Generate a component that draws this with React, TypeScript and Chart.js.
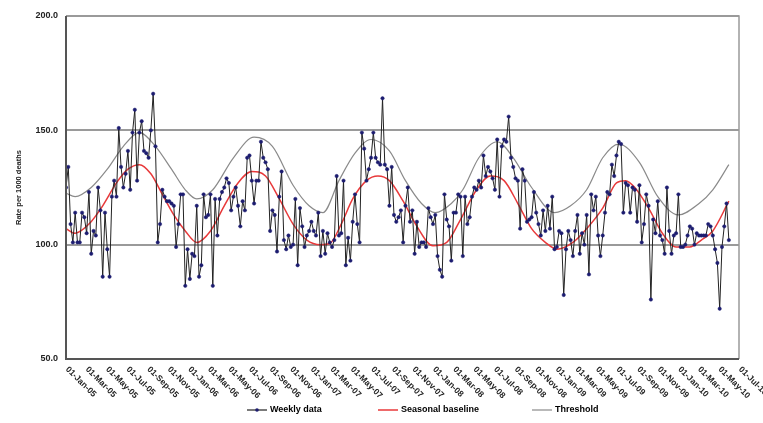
import { useEffect, useRef } from "react";
import { Chart, registerables } from "chart.js";

Chart.register(...registerables);

const TICK_LABELS = [
  "01-Jan-05", "01-Mar-05", "01-May-05", "01-Jul-05", "01-Sep-05", "01-Nov-05",
  "01-Jan-06", "01-Mar-06", "01-May-06", "01-Jul-06", "01-Sep-06", "01-Nov-06",
  "01-Jan-07", "01-Mar-07", "01-May-07", "01-Jul-07", "01-Sep-07", "01-Nov-07",
  "01-Jan-08", "01-Mar-08", "01-May-08", "01-Jul-08", "01-Sep-08", "01-Nov-08",
  "01-Jan-09", "01-Mar-09", "01-May-09", "01-Jul-09", "01-Sep-09", "01-Nov-09",
  "01-Jan-10", "01-Mar-10", "01-May-10", "01-Jul-10",
];

const Y_TICKS = [50, 100, 150, 200];

const WEEKLY_DATA = [
  125, 134, 109, 101, 114, 101, 101, 114, 112, 105, 123, 96, 106, 104, 125, 115, 86, 114, 98, 86,
  121, 128, 121, 151, 134, 125, 131, 141, 124, 149, 159, 128, 149, 154, 141, 140, 138, 150, 166, 143,
  101, 109, 124, 121, 119, 119, 118, 117, 99, 109, 122, 122,
  82, 98, 85, 96, 95, 117, 86, 91, 122, 112, 113, 122, 82, 120, 104, 120, 123, 125, 129, 127,
  115, 121, 125, 117, 108, 119, 115, 138, 139, 128, 118, 128, 128, 145, 138, 136, 133, 106, 115, 113,
  97, 121, 132, 102, 98, 104, 99, 100, 120, 91, 116, 108, 99, 104, 106, 110, 106, 104, 114,
  95, 106, 96, 105, 101, 99, 102, 130, 104, 105, 128, 91, 103, 93, 110, 122, 109, 101, 149, 142,
  128, 133, 138, 149, 138, 136, 135, 164, 135, 133, 117, 134, 113, 110, 112, 115, 101, 117, 125, 110,
  115, 96, 110, 99, 101, 101, 99, 116, 112, 109, 113, 95, 89, 86, 122, 111, 108, 93, 114,
  114, 122, 121, 95, 121, 109, 112, 121, 125, 124, 128, 125, 139, 130, 134, 132, 129, 124, 146, 121,
  143, 146, 145, 156, 138, 134, 129, 128, 107, 133, 128, 110, 111, 112, 123, 114, 109, 104, 115, 106,
  117, 107, 121, 98, 99, 106, 105, 78, 98, 106, 102, 95, 106, 113, 96, 105, 100, 113,
  87, 122, 115, 121, 104, 95, 104, 114, 123, 122, 135, 130, 139, 145, 144, 114, 127, 126, 114, 125,
  124, 110, 126, 101, 109, 122, 117, 76, 111, 105, 119, 104, 102, 96, 125, 106, 96, 104, 105, 122,
  99, 99, 100, 104, 108, 107, 100, 105, 104, 104, 104, 104, 109, 108, 104, 98, 92, 72, 99, 108,
  118, 102,
];

const BASELINE_WEEKS = [
  0, 4, 10, 16, 22, 27, 32, 37, 42, 47, 52, 57, 63, 69, 75, 81, 87, 93, 99, 105, 111, 115, 120, 125,
  131, 136, 141, 147, 153, 160, 166, 172, 179, 185, 191, 197, 203, 209, 214, 221, 227, 234, 240, 244,
  248, 254, 260, 266, 272, 277, 282, 289,
];
const BASELINE_VALUES = [
  107, 105, 109, 117, 127, 133, 135, 131, 122, 113, 106, 101, 106, 117, 127, 132, 130, 120, 109, 102,
  100, 100.5, 109, 120, 128, 130, 128, 119, 108, 99.5, 101, 111, 124, 130, 128, 118, 107, 101, 98, 101,
  107, 116, 127, 128, 125, 116, 105, 99, 99, 102, 106, 119,
];

const THRESHOLD_WEEKS = [
  0, 4, 11, 18, 25, 32, 39, 46, 52, 57, 64, 73, 82, 90, 99, 106, 112, 119, 126, 133, 141, 148, 155,
  161, 168, 173, 180, 188, 195, 203, 213, 220, 227, 234, 241, 250, 258, 267, 276, 282, 289,
];
const THRESHOLD_VALUES = [
  122.5, 121, 125, 133, 143, 149, 143, 133, 124, 120, 124, 138, 147, 143, 126, 117, 114, 128, 140, 146,
  141, 128, 118, 114, 118, 124, 138, 145, 138, 125, 114, 117, 124, 138, 144, 136, 121, 113, 118, 124,
  135,
];

const SERIES_NAMES = ["Weekly data", "Seasonal baseline", "Threshold"];
const SERIES_COLORS = ["#222222", "#e8393a", "#8a8a8a"];

const MONTHS: Record<string, number> = {
  Jan: 0, Feb: 1, Mar: 2, Apr: 3, May: 4, Jun: 5, Jul: 6, Aug: 7, Sep: 8, Oct: 9, Nov: 10, Dec: 11,
};
const ORIGIN = Date.UTC(2005, 0, 1);
function dayOffset(label: string): number {
  const [d, m, y] = label.split("-");
  return (Date.UTC(2000 + Number(y), MONTHS[m], Number(d)) - ORIGIN) / 86400000;
}
const TICK_DAYS = TICK_LABELS.map(dayOffset);
const X_MAX = TICK_DAYS[TICK_DAYS.length - 1];
// days between consecutive samples
const DAYS_PER_SAMPLE = 6.84;

const FONT = "'Liberation Sans', Arial, sans-serif";

const framePlugin = {
  id: "frame",
  afterDatasetsDraw(chart: any) {
    const { ctx, chartArea: a } = chart;
    ctx.save();
    ctx.lineWidth = 1.5;
    ctx.strokeStyle = "#9a9a9a";
    ctx.beginPath();
    ctx.moveTo(a.left, a.top);
    ctx.lineTo(a.right, a.top);
    ctx.lineTo(a.right, a.bottom);
    ctx.stroke();
    ctx.strokeStyle = "#555";
    ctx.lineWidth = 2;
    ctx.beginPath();
    ctx.moveTo(a.left, a.top);
    ctx.lineTo(a.left, a.bottom);
    ctx.lineTo(a.right, a.bottom);
    ctx.stroke();
    ctx.restore();
  },
};

// x tick labels: rotated clockwise, text starting at the tick position (as in the original)
const xLabelPlugin = {
  id: "xLabels",
  afterDraw(chart: any) {
    const { ctx, chartArea: a } = chart;
    const xs = chart.scales.x;
    ctx.save();
    ctx.font = `bold 8.5px ${FONT}`;
    ctx.fillStyle = "#222";
    ctx.textAlign = "left";
    ctx.textBaseline = "middle";
    TICK_DAYS.forEach((d, i) => {
      const px = xs.getPixelForValue(d);
      ctx.save();
      ctx.translate(px + 1, a.bottom + 9);
      ctx.rotate(Math.PI / 4);
      ctx.fillText(TICK_LABELS[i], 0, 0);
      ctx.restore();
    });
    ctx.restore();
  },
};

// legend drawn as in the original: three widely spaced entries below the axis labels
const legendPlugin = {
  id: "customLegend",
  afterDraw(chart: any) {
    const { ctx } = chart;
    const starts = [247, 378, 532];
    const y = 410;
    ctx.save();
    ctx.font = `bold 9px ${FONT}`;
    ctx.textBaseline = "middle";
    SERIES_NAMES.forEach((name, i) => {
      const x = starts[i];
      ctx.strokeStyle = SERIES_COLORS[i];
      ctx.lineWidth = i === 1 ? 1.5 : 1.2;
      ctx.beginPath();
      ctx.moveTo(x, y);
      ctx.lineTo(x + 20, y);
      ctx.stroke();
      if (i === 0) {
        ctx.fillStyle = "#1c1c70";
        ctx.beginPath();
        ctx.arc(x + 10, y, 1.8, 0, Math.PI * 2);
        ctx.fill();
      }
      ctx.fillStyle = "#000";
      ctx.fillText(name, x + 23, y);
    });
    ctx.restore();
  },
};

export default function App() {
  const ref = useRef<HTMLCanvasElement>(null);

  useEffect(() => {
    document.body.style.margin = "0";
    const canvas = ref.current;
    if (!canvas) return;

    const weekly = WEEKLY_DATA.map((v, i) => ({ x: i * DAYS_PER_SAMPLE, y: v }));
    const baseline = BASELINE_WEEKS.map((w, i) => ({ x: w * DAYS_PER_SAMPLE, y: BASELINE_VALUES[i] }));
    const threshold = THRESHOLD_WEEKS.map((w, i) => ({ x: w * DAYS_PER_SAMPLE, y: THRESHOLD_VALUES[i] }));

    const chart = new Chart(canvas, {
      type: "line",
      data: {
        datasets: [
          {
            label: SERIES_NAMES[0],
            data: weekly,
            borderColor: SERIES_COLORS[0],
            borderWidth: 1,
            pointRadius: 1.7,
            pointBackgroundColor: "#1c1c70",
            pointBorderColor: "#1c1c70",
            pointBorderWidth: 0.5,
            tension: 0,
            order: 1,
          },
          {
            label: SERIES_NAMES[1],
            data: baseline,
            borderColor: SERIES_COLORS[1],
            borderWidth: 1.5,
            pointRadius: 0,
            cubicInterpolationMode: "monotone",
            order: 2,
          },
          {
            label: SERIES_NAMES[2],
            data: threshold,
            borderColor: SERIES_COLORS[2],
            borderWidth: 1.2,
            pointRadius: 0,
            cubicInterpolationMode: "monotone",
            order: 3,
          },
        ],
      },
      options: {
        animation: false,
        responsive: false,
        maintainAspectRatio: false,
        layout: { padding: { top: 16, right: 24, bottom: 24, left: 0 } },
        plugins: {
          tooltip: { enabled: false },
          legend: { display: false },
        },
        scales: {
          x: {
            type: "linear",
            min: 0,
            max: X_MAX,
            afterBuildTicks: (scale: any) => {
              scale.ticks = TICK_DAYS.map((d) => ({ value: d }));
            },
            afterFit: (scale: any) => {
              scale.height = 40;
            },
            ticks: { display: false },
            grid: { display: false },
            border: { display: false },
          },
          y: {
            min: 50,
            max: 200,
            afterBuildTicks: (scale: any) => {
              scale.ticks = Y_TICKS.map((v) => ({ value: v }));
            },
            afterFit: (scale: any) => {
              scale.width = 66;
            },
            ticks: {
              padding: 8,
              font: { family: FONT, size: 9, weight: "bold" },
              color: "#222",
              callback: (v: any) => Number(v).toFixed(1),
            },
            grid: {
              color: "#9a9a9a",
              lineWidth: 2,
              drawTicks: false,
            },
            border: { display: false },
            title: {
              display: true,
              text: "Rate per 1000 deaths",
              font: { family: FONT, size: 7.5, weight: "bold" },
              color: "#222",
              padding: { top: 14, bottom: 4 },
            },
          },
        },
      },
      plugins: [framePlugin, xLabelPlugin, legendPlugin],
    } as any);

    return () => chart.destroy();
  }, []);

  return (
    <div style={{ width: 763, height: 423 }}>
      <canvas ref={ref} width={763} height={423} style={{ display: "block" }} />
    </div>
  );
}
